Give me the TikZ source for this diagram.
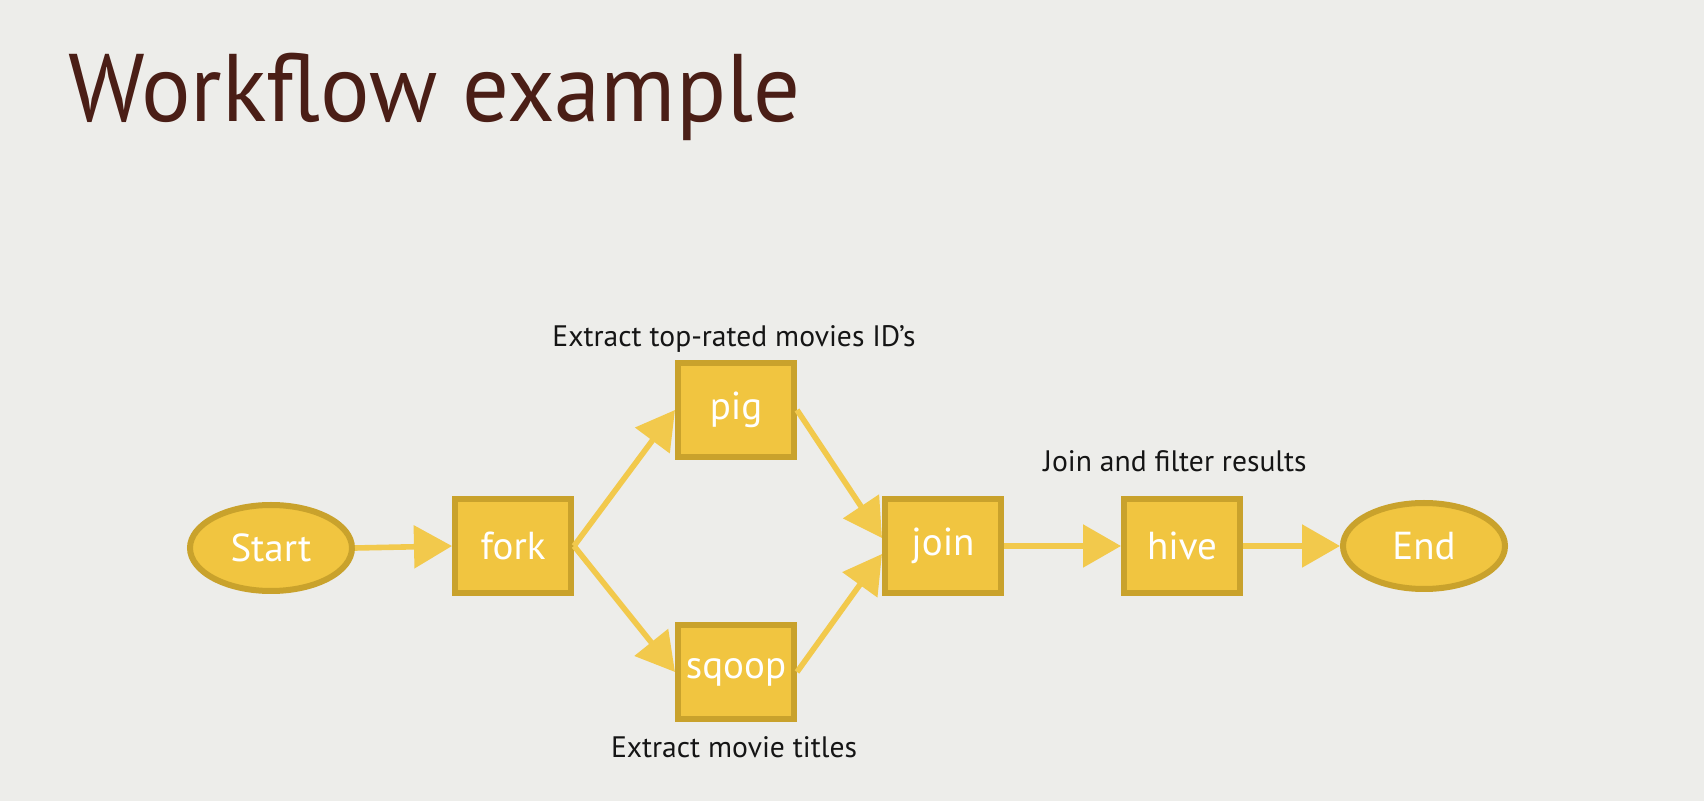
\documentclass[tikz,border=0pt]{standalone}
\usepackage{fontspec}
\setmainfont{PT Sans}
\usetikzlibrary{shapes.geometric,arrows.meta,calc}
\definecolor{bg}{HTML}{EDEDEA}
\definecolor{boxfill}{HTML}{F1C540}
\definecolor{boxedge}{HTML}{C9A22C}
\definecolor{arrowcol}{HTML}{F2C94C}
\definecolor{titlecol}{HTML}{4A1E16}
\definecolor{labelcol}{HTML}{151515}
\tikzset{
  boxnode/.style={rectangle, draw=boxedge, fill=boxfill, line width=3pt,
    minimum width=58pt, minimum height=47pt, inner sep=0pt,
    text=white, font=\fontsize{19.5}{22}\selectfont},
  ovalnode/.style={ellipse, draw=boxedge, fill=boxfill, line width=3pt,
    minimum width=81pt, minimum height=43pt, inner sep=0pt,
    text=white, font=\fontsize{19.5}{22}\selectfont},
  flow/.style={draw=arrowcol, line width=2.8pt,
    -{Triangle[length=19pt,width=21pt]}},
  note/.style={text=labelcol, font=\fontsize{14.8}{17}\selectfont, inner sep=0pt},
}
\begin{document}
\begin{tikzpicture}[x=0.5pt,y=-0.5pt]
\fill[bg] (0,0) rectangle (1704,801);
\useasboundingbox (0,0) rectangle (1704,801);
\node[anchor=base west, text=titlecol, font=\fontsize{48}{56}\selectfont, inner sep=0pt] (title) at (68,122) {\scalebox{0.965}[1]{Workflow example}};

\node[ovalnode] (start) at (271,548) {Start};
\node[boxnode] (fork) at (513,546) {fork};
\node[boxnode] (pig) at (736,410) {pig};
\node[boxnode] (sqoop) at (736,672) {sqoop};
\node[boxnode] (join) at (943,546) {join};
\node[boxnode] (hive) at (1182,546) {hive};
\node[ovalnode] (end) at (1424,546) {End};

\node[note] (l1) at (734,339) {Extract top-rated movies ID’s};
\node[note] (l2) at (734,747) {Extract movie titles};
\node[note] (l3) at (1175,461) {Join and filter results};

\draw[flow] (start.east) -- (fork.west);
\draw[flow] (fork.east) -- (pig.west);
\draw[flow] (fork.east) -- (sqoop.west);
\draw[flow] (pig.east) -- ($(join.west)+(0,-8)$);
\draw[flow] (sqoop.east) -- ($(join.west)+(0,8)$);
\draw[flow] (join.east) -- (hive.west);
\draw[flow] (hive.east) -- (end.west);
\end{tikzpicture}
\end{document}
